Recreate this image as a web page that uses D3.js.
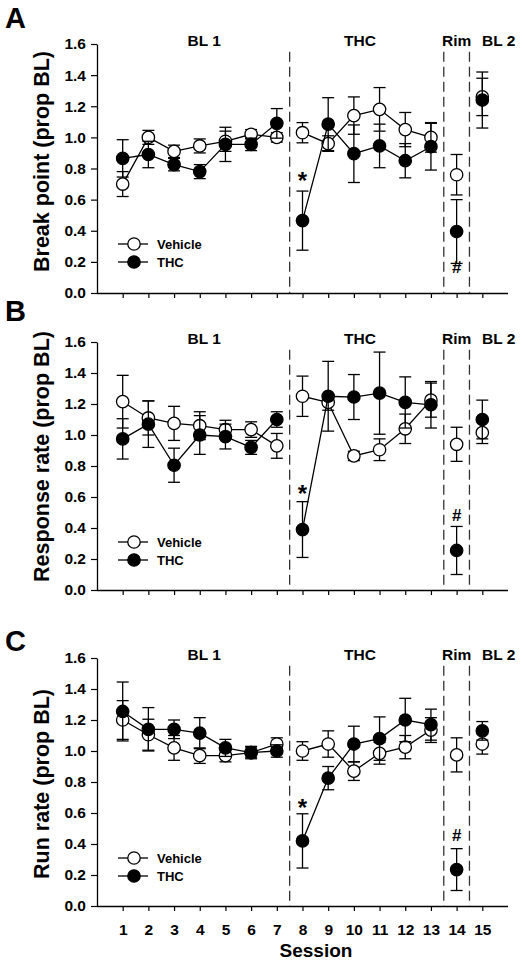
<!DOCTYPE html>
<html>
<head>
<meta charset="utf-8">
<script src="https://cdn.jsdelivr.net/npm/d3@7"></script>
<style>
  html, body { margin: 0; padding: 0; background: #fff; }
  svg { display: block; }
  text { font-family: "Liberation Sans", Arial, sans-serif; font-weight: bold; fill: #000; }
</style>
</head>
<body>
<svg id="chart" width="522" height="964"></svg>
<script>
// ---------------- data ----------------
const sessions = [1, 2, 3, 4, 5, 6, 7, 8, 9, 10, 11, 12, 13, 14, 15];
const sessionLabels = ["1","2","3","4","5","6","7","8","9","10","11","12","13","14","15"];
const yTicks = [0.0, 0.2, 0.4, 0.6, 0.8, 1.0, 1.2, 1.4, 1.6];
const phaseNames = ["BL 1", "THC", "Rim", "BL 2"];
const phaseCenters = [4.17, 10.24, 14.0, 15.64];  // session positions of phase labels
const phaseBreaks = [7.5, 13.5, 14.5];            // dashed separators
const lineSegments = [[1, 7], [8, 13]];           // connected runs of sessions
const seriesNames = ["Vehicle", "THC"];

// Panel A: Break point
const bpVeh    = [0.70, 1.00, 0.91, 0.945, 0.975, 1.02, 1.00, 1.03, 0.96, 1.14, 1.18, 1.05, 1.00, 0.76, 1.26];
const bpVehErr = [0.08, 0.045, 0.04, 0.045, 0.065, 0.03, 0.03, 0.065, 0.05, 0.12, 0.14, 0.11, 0.095, 0.13, 0.12];
const bpThc    = [0.865, 0.89, 0.825, 0.78, 0.955, 0.955, 1.09, 0.465, 1.085, 0.895, 0.945, 0.85, 0.94, 0.395, 1.24];
const bpThcErr = [0.12, 0.085, 0.04, 0.045, 0.11, 0.04, 0.095, 0.19, 0.17, 0.185, 0.14, 0.11, 0.15, 0.205, 0.18];

// Panel B: Response rate
const rrVeh    = [1.215, 1.11, 1.075, 1.06, 1.035, 1.035, 0.93, 1.25, 1.21, 0.865, 0.905, 1.04, 1.225, 0.94, 1.015];
const rrVehErr = [0.17, 0.11, 0.11, 0.09, 0.06, 0.05, 0.08, 0.13, 0.05, 0.03, 0.07, 0.095, 0.11, 0.11, 0.07];
const rrThc    = [0.975, 1.07, 0.805, 1.00, 0.99, 0.92, 1.10, 0.39, 1.25, 1.245, 1.27, 1.21, 1.195, 0.255, 1.10];
const rrThcErr = [0.13, 0.15, 0.11, 0.125, 0.08, 0.045, 0.05, 0.18, 0.225, 0.145, 0.265, 0.165, 0.15, 0.155, 0.125];

// Panel C: Run rate
const crVeh    = [1.20, 1.105, 1.02, 0.97, 0.97, 0.99, 1.045, 1.00, 1.045, 0.87, 0.985, 1.025, 1.135, 0.975, 1.045];
const crVehErr = [0.125, 0.10, 0.08, 0.05, 0.04, 0.03, 0.04, 0.06, 0.085, 0.06, 0.07, 0.075, 0.08, 0.11, 0.065];
const crThc    = [1.255, 1.14, 1.14, 1.115, 1.02, 0.99, 1.00, 0.42, 0.825, 1.045, 1.08, 1.20, 1.17, 0.235, 1.13];
const crThcErr = [0.19, 0.14, 0.06, 0.10, 0.055, 0.04, 0.04, 0.175, 0.075, 0.115, 0.14, 0.14, 0.10, 0.135, 0.06];

const panelLetters = ["A", "B", "C"];
const panelTitles = ["Break point (prop BL)", "Response rate (prop BL)", "Run rate (prop BL)"];
// significance marks: [session, value at symbol centre]
const starMarks = [[8, 0.745], [8, 0.645], [8, 0.66]];
const hashMarks = [[14, 0.165], [14, 0.485], [14, 0.46]];

// ---------------- layout ----------------
const layout = {
  left: 97, right: 508,
  tops: [44, 342, 658], bottoms: [293, 590, 906],
  letterBase: [28, 321, 651],
  titleCenters: [161.5, 456.5, 784],
  titleX: 42
};

const panels = [
  { veh: bpVeh, vehErr: bpVehErr, thc: bpThc, thcErr: bpThcErr },
  { veh: rrVeh, vehErr: rrVehErr, thc: rrThc, thcErr: rrThcErr },
  { veh: crVeh, vehErr: crVehErr, thc: crThc, thcErr: crThcErr }
];

const svg = d3.select("#chart");
const x = d3.scaleLinear().domain([0, 16]).range([layout.left, layout.right]);

panels.forEach((p, i) => {
  const y = d3.scaleLinear().domain([0, 1.6]).range([layout.bottoms[i], layout.tops[i]]);
  const g = svg.append("g");

  // panel letter
  g.append("text").attr("x", 5).attr("y", layout.letterBase[i])
    .attr("font-size", 29).text(panelLetters[i]);

  // y title
  g.append("text")
    .attr("transform", `translate(${layout.titleX},${layout.titleCenters[i]}) rotate(-90)`)
    .attr("text-anchor", "middle").attr("dominant-baseline", "central")
    .attr("font-size", 21.5).text(panelTitles[i]);

  // axes
  const yAxis = d3.axisLeft(y).tickValues(yTicks).tickFormat(d3.format(".1f"))
    .tickSize(6).tickPadding(5).tickSizeOuter(0);
  const ya = g.append("g").attr("transform", `translate(${layout.left},0)`).call(yAxis);
  ya.selectAll("text").attr("font-size", 15.5).attr("font-family", "Liberation Sans, Arial, sans-serif").attr("font-weight", "bold");

  const xAxis = d3.axisBottom(x).tickValues(sessions)
    .tickFormat((d, k) => i === 2 ? sessionLabels[k] : "")
    .tickSize(5).tickPadding(13).tickSizeOuter(0);
  const xa = g.append("g").attr("transform", `translate(0,${layout.bottoms[i]})`).call(xAxis);
  xa.selectAll("text").attr("font-size", 15.5).attr("font-family", "Liberation Sans, Arial, sans-serif").attr("font-weight", "bold");
  [ya, xa].forEach(a => {
    a.select(".domain").attr("stroke", "#000").attr("stroke-width", 1.3);
    a.selectAll(".tick line").attr("stroke", "#000").attr("stroke-width", 1.2);
  });
  xa.select(".domain").attr("d", `M${layout.left},0.5H${layout.right}`);

  // phase separators
  g.selectAll(".sep").data(phaseBreaks).join("line")
    .attr("x1", d => x(d)).attr("x2", d => x(d))
    .attr("y1", y(1.55)).attr("y2", y(0))
    .attr("stroke", "#333").attr("stroke-width", 1.3).attr("stroke-dasharray", "10,5");

  // phase labels
  g.selectAll(".phase").data(phaseNames).join("text")
    .attr("x", (d, k) => x(phaseCenters[k])).attr("y", y(1.6) + 1.5)
    .attr("text-anchor", "middle").attr("font-size", 15.5).text(d => d);

  // series
  const series = [
    { vals: p.veh, errs: p.vehErr, fill: "#fff" },
    { vals: p.thc, errs: p.thcErr, fill: "#000" }
  ];
  series.forEach(s => {
    const pts = sessions.map((ss, k) => ({ s: ss, v: s.vals[k], e: s.errs[k] }));
    const eb = g.append("g").attr("stroke", "#000").attr("stroke-width", 1.3);
    eb.selectAll("line.v").data(pts).join("line")
      .attr("x1", d => x(d.s)).attr("x2", d => x(d.s))
      .attr("y1", d => y(d.v - d.e)).attr("y2", d => y(d.v + d.e));
    eb.selectAll("line.t").data(pts).join("line")
      .attr("x1", d => x(d.s) - 6).attr("x2", d => x(d.s) + 6)
      .attr("y1", d => y(d.v + d.e)).attr("y2", d => y(d.v + d.e));
    eb.selectAll("line.b").data(pts).join("line")
      .attr("x1", d => x(d.s) - 6).attr("x2", d => x(d.s) + 6)
      .attr("y1", d => y(d.v - d.e)).attr("y2", d => y(d.v - d.e));
    const line = d3.line().x(d => x(d.s)).y(d => y(d.v));
    lineSegments.forEach(([a, b]) => {
      g.append("path").datum(pts.filter(d => d.s >= a && d.s <= b))
        .attr("d", line).attr("fill", "none").attr("stroke", "#000").attr("stroke-width", 1.3);
    });
    g.selectAll(null).data(pts).join("circle")
      .attr("cx", d => x(d.s)).attr("cy", d => y(d.v)).attr("r", 6.2)
      .attr("fill", s.fill).attr("stroke", "#000").attr("stroke-width", 1.3);
  });

  // significance marks
  g.append("text").attr("x", x(starMarks[i][0])).attr("y", y(starMarks[i][1]) + 12)
    .attr("text-anchor", "middle").attr("font-size", 24).text("*");
  g.append("text").attr("x", x(hashMarks[i][0])).attr("y", y(hashMarks[i][1]) + 6)
    .attr("text-anchor", "middle").attr("font-size", 17).text("#");

  // legend
  const lg = g.append("g").attr("transform", `translate(${layout.left},${layout.tops[i]})`);
  seriesNames.forEach((name, k) => {
    const ly = 200 + k * 18;
    lg.append("line").attr("x1", 21).attr("x2", 51).attr("y1", ly).attr("y2", ly)
      .attr("stroke", "#000").attr("stroke-width", 1.3);
    lg.append("circle").attr("cx", 37).attr("cy", ly).attr("r", 6.2)
      .attr("fill", k === 0 ? "#fff" : "#000").attr("stroke", "#000").attr("stroke-width", 1.3);
    lg.append("text").attr("x", 60).attr("y", ly).attr("dominant-baseline", "central")
      .attr("font-size", 13).text(name);
  });
});

// x title
svg.append("text").attr("x", 316).attr("y", 957).attr("text-anchor", "middle")
  .attr("font-size", 19).text("Session");
</script>
</body>
</html>
